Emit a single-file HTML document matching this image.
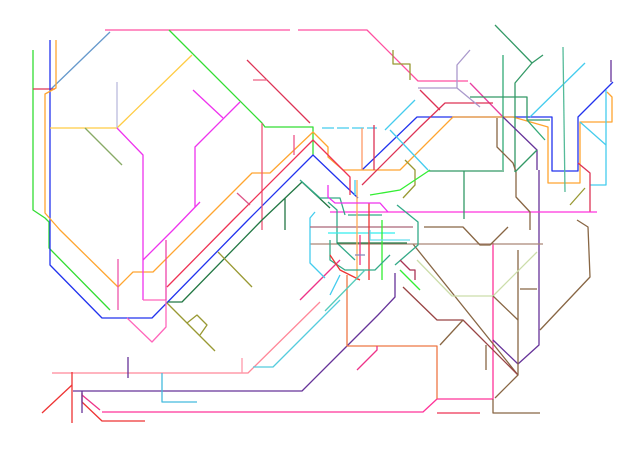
<!DOCTYPE html>
<html><head><meta charset="utf-8"><style>
html,body{margin:0;padding:0;background:#fff;}
svg{display:block}
polyline,line{fill:none;stroke-width:1.3;stroke-linejoin:round}
</style></head><body>
<svg width="640" height="458" viewBox="0 0 640 458" xmlns="http://www.w3.org/2000/svg">
<!-- top pink -->
<polyline stroke="#ff4fa0" stroke-width="1.8" points="105,30 290,30"/>
<polyline stroke="#ff4fa0" stroke-width="1.5" points="298,30 367,30 418,81 468,81"/>
<polyline stroke="#e83fa0" points="470,83 503,117"/>
<!-- green top -->
<polyline stroke="#33dd33" points="169,30 262,123 265,127 313,127 313,155"/>
<polyline stroke="#6699cc" points="110,32 50,90"/>
<!-- left green -->
<polyline stroke="#33dd33" points="33,50 33,210 45,218 49,222 49,248 110,310"/>
<polyline stroke="#dd3355" points="33,89 55,89"/>
<!-- blue -->
<polyline stroke="#2233ee" points="50,40 50,265 102,318 152,318 248,220 313,155 358,198"/>
<polyline stroke="#2233ee" points="362,170 417,117 552,117 552,171 578,171 578,117 613,82"/>
<!-- orange -->
<polyline stroke="#ffa530" points="56,40 56,88 45,94 45,213 60,230 118,287 133,272 153,272 195,230 252,173 270,173 313,132 328,147 328,157 343,170 400,170 453,117 513,117 548,127 548,183 580,183 580,122 612,122 612,97 607,92"/>
<!-- yellow -->
<polyline stroke="#ffcc44" points="50,128 117,128 192,55"/>
<polyline stroke="#bbbbdd" points="117,82 117,128"/>
<!-- magenta -->
<polyline stroke="#ee33ee" points="117,128 143,155 143,300"/>
<polyline stroke="#ee33ee" points="193,90 223,118"/>
<polyline stroke="#ee33ee" points="240,102 195,147 195,207"/>
<polyline stroke="#ee33ee" points="200,202 173,230 143,260"/>
<polyline stroke="#ff66bb" points="143,300 166,300 166,327 152,342 127,318"/>
<polyline stroke="#ee44aa" points="166,300 166,240"/>
<!-- brown tick -->
<polyline stroke="#88aa66" points="85,128 122,165"/>
<!-- red -->
<polyline stroke="#dd3355" points="247,60 310,123"/>
<polyline stroke="#ee6688" points="253,80 267,80"/>
<polyline stroke="#ee5577" stroke-width="1.8" points="262,123 262,230"/>
<polyline stroke="#ee3355" points="167,287 233,220 313,140 350,177 350,195"/>
<polyline stroke="#ee5588" points="294,135 294,155"/>
<polyline stroke="#ee55aa" points="118,259 118,310"/>
<polyline stroke="#dd5588" points="237,193 250,205"/>
<!-- dark green -->
<polyline stroke="#227744" points="168,302 182,302 262,220 302,182 330,208"/>
<polyline stroke="#227744" points="285,198 285,230"/>
<polyline stroke="#999933" points="218,252 252,287"/>
<polyline stroke="#999933" points="167,303 215,351"/>
<polyline stroke="#999933" points="187,323 197,315 207,325 200,335"/>
<!-- bottom left -->
<polyline stroke="#ff8899" points="52,373 248,373 320,302"/>
<polyline stroke="#55ccdd" points="253,367 273,367 340,300"/>
<polyline stroke="#663399" points="73,391 302,391 345,348 378,315 395,297 395,273"/>
<polyline stroke="#ee3333" points="72,372 72,423"/>
<polyline stroke="#ee3333" points="42,413 72,385"/>
<polyline stroke="#ff3399" points="102,412 423,412 437,399 493,399 493,243"/>
<polyline stroke="#ee3333" points="82,393 82,402 102,421 145,421"/>
<polyline stroke="#ee3388" points="82,395 100,410"/>
<polyline stroke="#44bbdd" points="162,373 162,402 197,402"/>
<polyline stroke="#663399" points="128,357 128,378"/>
<polyline stroke="#663399" points="82,391 82,413"/>
<polyline stroke="#ff99aa" points="242,358 242,373"/>
<!-- lower right region -->
<polyline stroke="#886644" points="493,399 493,413 540,413"/>
<polyline stroke="#ee7744" points="437,399 437,346 347,346 347,275"/>
<polyline stroke="#ee3355" points="437,413 480,413"/>
<polyline stroke="#ee3388" points="357,370 377,350 377,346"/>
<polyline stroke="#ee3388" points="300,300 340,260"/>
<polyline stroke="#886644" points="413,244 518,375 495,398"/>
<polyline stroke="#994444" points="403,287 437,320 463,320 518,375"/>
<polyline stroke="#886644" points="463,320 440,345"/>
<polyline stroke="#886644" points="486,345 486,370"/>
<polyline stroke="#886644" points="540,330 590,277 588,227 577,220"/>
<polyline stroke="#663399" points="539,170 539,345 518,364 493,340"/>
<polyline stroke="#886644" points="518,250 518,375"/>
<polyline stroke="#aa8877" points="310,244 543,244"/>
<polyline stroke="#ccddaa" points="417,260 452,296 493,296 537,252"/>
<polyline stroke="#886644" points="493,296 518,320"/>
<polyline stroke="#886644" points="520,289 537,289"/>
<polyline stroke="#886644" points="424,227 463,227 480,245 490,245 508,227"/>
<!-- top right -->
<polyline stroke="#339966" points="495,25 532,63 543,55"/>
<polyline stroke="#339966" points="532,63 515,83 515,172"/>
<polyline stroke="#33aa77" points="503,55 503,170"/>
<polyline stroke="#44ccee" points="585,63 530,117"/>
<polyline stroke="#55bb99" points="563,47 565,192"/>
<polyline stroke="#44ccee" points="606,90 606,185 590,185"/>
<polyline stroke="#44ccee" points="580,122 606,145"/>
<polyline stroke="#663399" points="611,60 611,82"/>
<polyline stroke="#dd3355" points="578,163 590,173 590,212"/>
<polyline stroke="#ff33dd" points="330,212 597,212"/>
<polyline stroke="#339966" points="428,171 504,171"/>
<polyline stroke="#339966" points="464,171 464,219"/>
<polyline stroke="#886644" points="497,118 497,147 513,163 516,172 516,197 530,212 530,230"/>
<polyline stroke="#dd3355" points="493,103 445,103 420,127 362,185"/>
<polyline stroke="#aa99cc" points="418,88 457,88 480,107"/>
<polyline stroke="#aa99cc" points="457,88 457,65 470,50"/>
<polyline stroke="#339966" points="470,97 527,97 527,120 550,120"/>
<polyline stroke="#dd3355" points="420,90 440,110"/>
<polyline stroke="#999933" points="393,50 393,64 410,64 410,80"/>
<polyline stroke="#663399" points="503,117 537,150 537,170"/>
<polyline stroke="#339966" points="515,172 537,150"/>
<polyline stroke="#33aa77" points="527,120 545,140"/>
<polyline stroke="#44ccee" points="415,100 385,130"/>
<polyline stroke="#44ccee" points="390,130 428,170"/>
<polyline stroke="#999933" points="585,188 570,205"/>
<polyline stroke="#999933" points="405,160 415,170 415,185 403,198"/>
<!-- center tangle -->
<polyline stroke="#44ccee" stroke-dasharray="12,3" points="322,128 377,128"/>
<polyline stroke="#ff9966" points="362,128 362,170"/>
<polyline stroke="#dd3355" points="374,125 374,170"/>
<polyline stroke="#44ccee" points="315,212 310,218 310,263 325,278"/>
<polyline stroke="#33aa88" points="328,202 337,210 337,243 355,260"/>
<polyline stroke="#33aa88" points="300,180 320,198 340,198 345,215"/>
<polyline stroke="#aa6677" points="310,227 413,227"/>
<polyline stroke="#33eeee" points="328,233 395,233"/>
<polyline stroke="#33aa88" points="348,215 382,215"/>
<polyline stroke="#227744" points="337,243 407,243"/>
<polyline stroke="#ee3333" points="369,203 369,280"/>
<polyline stroke="#ffaa55" points="357,180 357,280"/>
<polyline stroke="#33ee33" points="382,220 382,280"/>
<polyline stroke="#33ee33" points="370,195 400,190 430,170"/>
<polyline stroke="#ee33ee" points="328,185 328,197 335,203 380,203 388,212"/>
<polyline stroke="#33aa88" points="397,205 418,222 418,245 395,265"/>
<polyline stroke="#33aa88" points="330,240 330,260 345,270 375,270 390,255"/>
<polyline stroke="#44ccee" points="340,275 330,295"/>
<polyline stroke="#ee3333" points="330,255 340,270 360,280"/>
<polyline stroke="#55ccbb" points="325,311 365,270"/>
<polyline stroke="#66ddee" points="370,230 370,240 410,240"/>
<polyline stroke="#44ccee" points="355,180 355,195"/>
<polyline stroke="#aa3355" points="400,260 410,270 415,270 415,280"/>
<polyline stroke="#33ee33" points="400,270 410,280 420,290"/>
<polyline stroke="#ee3388" points="360,235 360,265"/>
<polyline stroke="#8888bb" points="355,255 365,255"/>
</svg>
</body></html>
